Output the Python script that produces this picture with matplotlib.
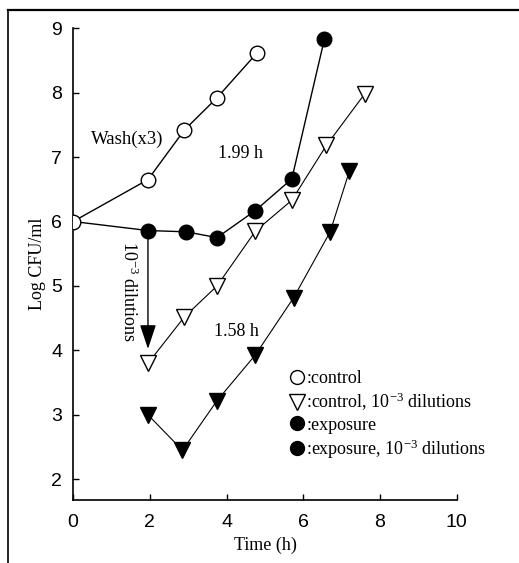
# Growth curves: control vs exposure, with 10^-3 dilutions

import matplotlib
matplotlib.use('Agg')
import matplotlib.pyplot as plt
from matplotlib.lines import Line2D

### DATA ###
ctrl_t = [0, 1.95, 2.9, 3.75, 4.8]
ctrl_v = [6.0, 6.65, 7.42, 7.92, 8.62]

expo_t = [0, 1.95, 2.95, 3.75, 4.75, 5.7, 6.55]
expo_v = [6.0, 5.86, 5.84, 5.75, 6.17, 6.66, 8.83]

ctrl_dil_t = [1.95, 2.9, 3.75, 4.75, 5.7, 6.6, 7.6]
ctrl_dil_v = [3.8, 4.52, 5.0, 5.85, 6.33, 7.18, 7.98]

expo_dil_t = [1.95, 2.85, 3.75, 4.75, 5.75, 6.7, 7.2]
expo_dil_v = [3.0, 2.45, 3.22, 3.93, 4.82, 5.84, 6.78]

legend_labels = [':control', ':control, 10$^{-3}$ dilutions', ':exposure', ':exposure, 10$^{-3}$ dilutions']

SERIF = 'Liberation Serif'
SANS = 'Liberation Sans'
plt.rcParams['mathtext.fontset'] = 'custom'
plt.rcParams['mathtext.rm'] = SERIF
plt.rcParams['mathtext.it'] = SERIF
plt.rcParams['mathtext.default'] = 'rm'

### FIGURE ###
fig = plt.figure(figsize=(5.19, 5.63), dpi=100)
ax = fig.add_axes([0.141, 0.112, 0.739, 0.838])

# partial frame round the figure (left + top)
fig.add_artist(Line2D([0.016, 0.016], [0, 0.982], transform=fig.transFigure, color='k', lw=1.2))
fig.add_artist(Line2D([0.016, 1.0], [0.982, 0.982], transform=fig.transFigure, color='k', lw=1.6))

ms = 10.5
ax.plot(ctrl_t, ctrl_v, color='k', lw=1.0, marker='o', ms=ms, mfc='white', mec='k', mew=1.0, zorder=3)
ax.plot(expo_t[1:], expo_v[1:], color='k', lw=1.0, marker='o', ms=ms, mfc='k', mec='k', zorder=3)
ax.plot(expo_t[:2], expo_v[:2], color='k', lw=1.0, zorder=2)
ax.plot(ctrl_dil_t, ctrl_dil_v, color='k', lw=0.8, marker='v', ms=12, mfc='white', mec='k', mew=1.0, zorder=3)
ax.plot(expo_dil_t, expo_dil_v, color='k', lw=0.8, marker='v', ms=12, mfc='k', mec='k', zorder=3)

# dilution arrow
ax.annotate('', xy=(expo_t[1], 3.98), xytext=(expo_t[1], expo_v[1]),
            arrowprops=dict(arrowstyle='-|>,head_length=1.5,head_width=0.5', color='k', lw=1.0), zorder=2)
ax.text(1.45, 4.92, '10$^{-3}$ dilutions', rotation=-90, ha='center', va='center',
        fontsize=13, family=SERIF)

ax.text(1.4, 7.27, 'Wash(x3)', ha='center', va='center', fontsize=13.5, family=SERIF)
ax.text(4.35, 7.06, '1.99 h', ha='center', va='center', fontsize=13, family=SERIF)
ax.text(4.25, 4.3, '1.58 h', ha='center', va='center', fontsize=13, family=SERIF)

# legend
handles = [
    Line2D([], [], ls='none', marker='o', ms=10, mfc='white', mec='k'),
    Line2D([], [], ls='none', marker='v', ms=12, mfc='white', mec='k'),
    Line2D([], [], ls='none', marker='o', ms=10, mfc='k', mec='k'),
    Line2D([], [], ls='none', marker='o', ms=10, mfc='k', mec='k'),
]
ax.legend(handles, legend_labels, loc='lower left', bbox_to_anchor=(0.565, 0.083),
          frameon=False, handlelength=0.8, handletextpad=0.1, labelspacing=0.2,
          borderaxespad=0, borderpad=0, prop={'family': SERIF, 'size': 13})

### AXES ###
ax.set_xlim(0, 10)
ax.set_ylim(1.68, 9)
ax.set_xticks([0, 2, 4, 6, 8, 10])
ax.set_yticks([2, 3, 4, 5, 6, 7, 8, 9])
ax.spines['top'].set_visible(False)
ax.spines['right'].set_visible(False)
for s in ('left', 'bottom'):
    ax.spines[s].set_linewidth(1.2)
ax.tick_params(direction='in', length=4, width=1.0, labelsize=14)
ax.tick_params(axis='x', pad=10)
ax.tick_params(axis='y', pad=8)
for lab in ax.get_xticklabels() + ax.get_yticklabels():
    lab.set_family(SANS)

ax.set_xlabel('Time (h)', fontsize=13, family=SERIF, labelpad=4)
ax.set_ylabel('Log CFU/ml', fontsize=13, family=SERIF, labelpad=4)

fig.savefig('out.png', dpi=100)
